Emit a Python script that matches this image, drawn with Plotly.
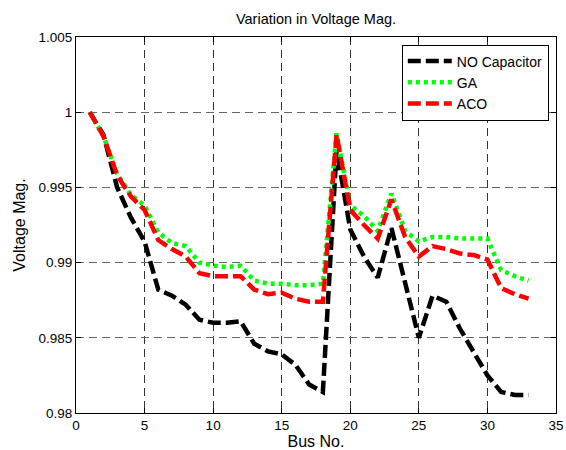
import plotly.graph_objects as go

bus = list(range(1, 34))

v_no_cap = [1.0000, 0.9985, 0.9950, 0.9930, 0.9914, 0.9882, 0.9878, 0.9872, 0.9862, 0.9860,
            0.9860, 0.9861, 0.9846, 0.9841, 0.9839, 0.9832, 0.9819, 0.9814, 0.9975, 0.9922,
            0.9904, 0.9890, 0.9923, 0.9886, 0.9850, 0.9878, 0.9874, 0.9856, 0.9840, 0.9825,
            0.9814, 0.9812, 0.9812]

v_ga = [1.0000, 0.9984, 0.9959, 0.9945, 0.9938, 0.9920, 0.9913, 0.9911, 0.9900, 0.9898,
        0.9897, 0.9898, 0.9888, 0.9886, 0.9886, 0.9885, 0.9885, 0.9886, 0.9986, 0.9938,
        0.9931, 0.9921, 0.9946, 0.9921, 0.9914, 0.9917, 0.9917, 0.9916, 0.9916, 0.9916,
        0.9895, 0.9891, 0.9888]

v_aco = [1.0000, 0.9984, 0.9958, 0.9944, 0.9935, 0.9915, 0.9909, 0.9904, 0.9893, 0.9891,
         0.9891, 0.9891, 0.9882, 0.9879, 0.9880, 0.9876, 0.9874, 0.9874, 0.9985, 0.9935,
         0.9925, 0.9916, 0.9942, 0.9917, 0.9904, 0.9911, 0.9909, 0.9906, 0.9905, 0.9902,
         0.9883, 0.9879, 0.9876]

x_ticks = [0, 5, 10, 15, 20, 25, 30, 35]
y_ticks = [0.98, 0.985, 0.99, 0.995, 1.0, 1.005]
y_tick_text = ["0.98", "0.985", "0.99", "0.995", "1", "1.005"]

fig = go.Figure()
fig.add_trace(go.Scatter(x=bus, y=v_no_cap, mode="lines", name="NO Capacitor",
                         line=dict(color="black", width=4.5, dash="13px,5px")))
fig.add_trace(go.Scatter(x=bus, y=v_ga, mode="lines", name="GA",
                         line=dict(color="#00ff00", width=4.5, dash="4px,4px")))
fig.add_trace(go.Scatter(x=bus, y=v_aco, mode="lines", name="ACO",
                         line=dict(color="#ff0000", width=4.5, dash="13px,5px")))

font = "Liberation Sans, Arial, sans-serif"
fig.update_layout(
    width=566,
    height=450,
    margin=dict(l=76, r=10, t=37, b=37),
    plot_bgcolor="white",
    paper_bgcolor="white",
    font=dict(family=font, size=13.5, color="black"),
    title=dict(text="Variation in Voltage Mag.", x=(76 + 556) / 2 / 566, xanchor="center",
               y=1 - 19 / 450, yanchor="middle", font=dict(size=14.5)),
    legend=dict(x=0.985, y=0.98, xanchor="right", yanchor="top",
                bgcolor="white", bordercolor="black", borderwidth=1,
                font=dict(size=14), itemwidth=44),
    showlegend=True,
)
fig.update_xaxes(
    range=[0, 35], tickvals=x_ticks, title_text="Bus No.", title_standoff=2,
    automargin=False, ticklabeloverflow="allow",
    showgrid=True, gridcolor="#333", griddash="8px,5px", gridwidth=1,
    showline=True, linecolor="black", linewidth=1, mirror="allticks",
    ticks="inside", ticklen=5, tickcolor="black", zeroline=False,
)
fig.update_yaxes(
    range=[0.98, 1.005], tickvals=y_ticks, ticktext=y_tick_text, title_text="Voltage Mag.",
    title_standoff=8, automargin=False, ticklabeloverflow="allow",
    showgrid=True, gridcolor="#666", griddash="8px,5px", gridwidth=1,
    showline=True, linecolor="black", linewidth=1, mirror="allticks",
    ticks="inside", ticklen=5, tickcolor="black", zeroline=False,
)

fig.write_html("out.html", config={"displayModeBar": False},
               post_script="document.body.style.margin='0';")
